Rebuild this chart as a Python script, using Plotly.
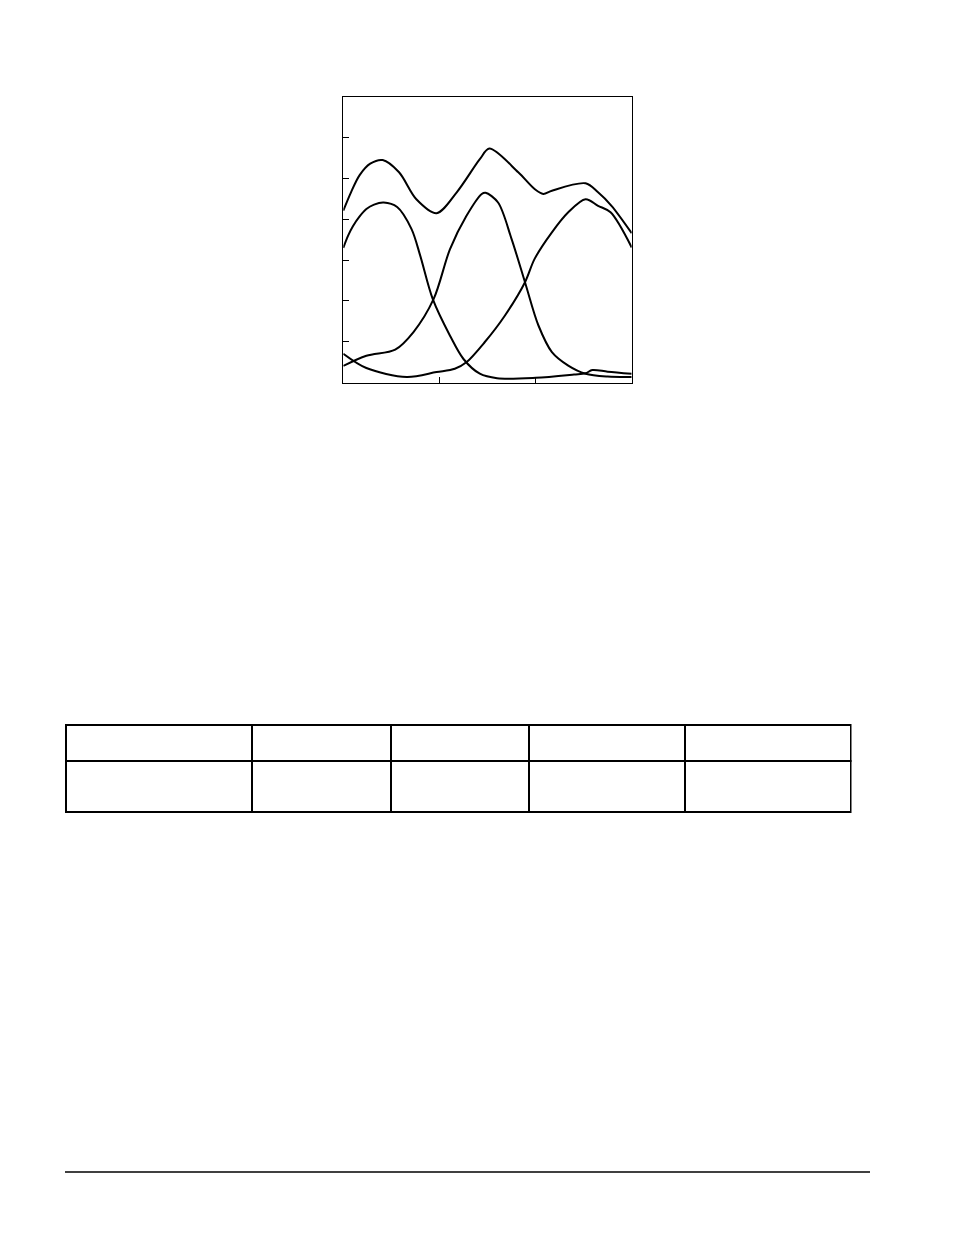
import plotly.graph_objects as go

W, H = 954, 1235
OFF = 8  # page body margin of the browser

# curves (x in 0..3, y in 0..7)
env_x = [0.00, 0.08, 0.17, 0.28, 0.41, 0.58, 0.76, 0.97, 1.18, 1.42, 1.52, 1.82, 1.99, 2.08, 2.17, 2.52, 2.65, 2.79, 3.00]
env_y = [4.21, 4.66, 5.08, 5.36, 5.45, 5.15, 4.49, 4.15, 4.66, 5.47, 5.73, 5.15, 4.74, 4.62, 4.70, 4.88, 4.66, 4.33, 3.66]

peak1_x = [0.00, 0.05, 0.10, 0.17, 0.24, 0.32, 0.42, 0.56, 0.71, 0.80, 0.93, 1.11, 1.25, 1.42, 1.60, 2.00, 2.40, 2.52, 2.59, 2.75, 3.00]
peak1_y = [3.30, 3.60, 3.83, 4.07, 4.25, 4.36, 4.41, 4.30, 3.76, 3.11, 2.05, 1.15, 0.58, 0.22, 0.11, 0.12, 0.20, 0.23, 0.31, 0.27, 0.22]

peak2_x = [0.00, 0.24, 0.54, 0.73, 0.94, 1.11, 1.28, 1.44, 1.48, 1.61, 1.75, 1.89, 2.03, 2.17, 2.34, 2.52, 2.75, 3.00]
peak2_y = [0.41, 0.66, 0.81, 1.24, 2.05, 3.27, 4.08, 4.62, 4.65, 4.41, 3.52, 2.46, 1.40, 0.75, 0.42, 0.22, 0.15, 0.14]

peak3_x = [0.00, 0.24, 0.66, 0.97, 1.16, 1.28, 1.47, 1.68, 1.89, 1.99, 2.17, 2.34, 2.52, 2.65, 2.78, 3.00]
peak3_y = [0.71, 0.36, 0.14, 0.26, 0.34, 0.50, 0.99, 1.64, 2.46, 3.03, 3.68, 4.17, 4.49, 4.33, 4.17, 3.31]

# empty data table under the chart
table_cols = ["", "", "", "", ""]
table_rows = [["", "", "", "", ""]]


def px_x(v):
    return (v - OFF) / W


def px_y(v):
    return 1 - (v - OFF) / H


fig = go.Figure()

for xs, ys in [(env_x, env_y), (peak1_x, peak1_y), (peak2_x, peak2_y), (peak3_x, peak3_y)]:
    fig.add_trace(go.Scatter(x=xs, y=ys, mode='lines',
                             line=dict(color='black', width=2, shape='spline', smoothing=0.9),
                             showlegend=False, hoverinfo='skip'))

fig.add_trace(go.Table(
    domain=dict(x=[px_x(65.5), px_x(850.5)], y=[px_y(815), px_y(725)]),
    columnwidth=[186, 139, 138, 156, 166],
    header=dict(values=table_cols, height=36, line=dict(color='black', width=2),
                fill=dict(color='white')),
    cells=dict(values=[[r[i] for r in table_rows] for i in range(len(table_cols))],
               height=51, line=dict(color='black', width=2), fill=dict(color='white')),
))

axis_style = dict(showline=True, linecolor='black', linewidth=1.3, mirror=True,
                  ticks='inside', ticklen=6, tickcolor='black', tickwidth=1.3,
                  showgrid=False, zeroline=False, showticklabels=False)

fig.update_xaxes(range=[0, 3], tickvals=[1, 2],
                 domain=[px_x(343.3), px_x(631.7)], **axis_style)
fig.update_yaxes(range=[0, 7], tickvals=[1, 2, 3, 4, 5, 6],
                 domain=[px_y(382.7), px_y(96.7)], **axis_style)

# rule near the foot of the page
fig.add_shape(type='line', xref='paper', yref='paper',
              x0=px_x(65), x1=px_x(870), y0=px_y(1172), y1=px_y(1172),
              line=dict(color='black', width=1.3))

fig.update_layout(
    width=W, height=H,
    margin=dict(l=0, r=0, t=0, b=0),
    paper_bgcolor='white', plot_bgcolor='white',
    showlegend=False,
)

fig.write_html("out.html")
